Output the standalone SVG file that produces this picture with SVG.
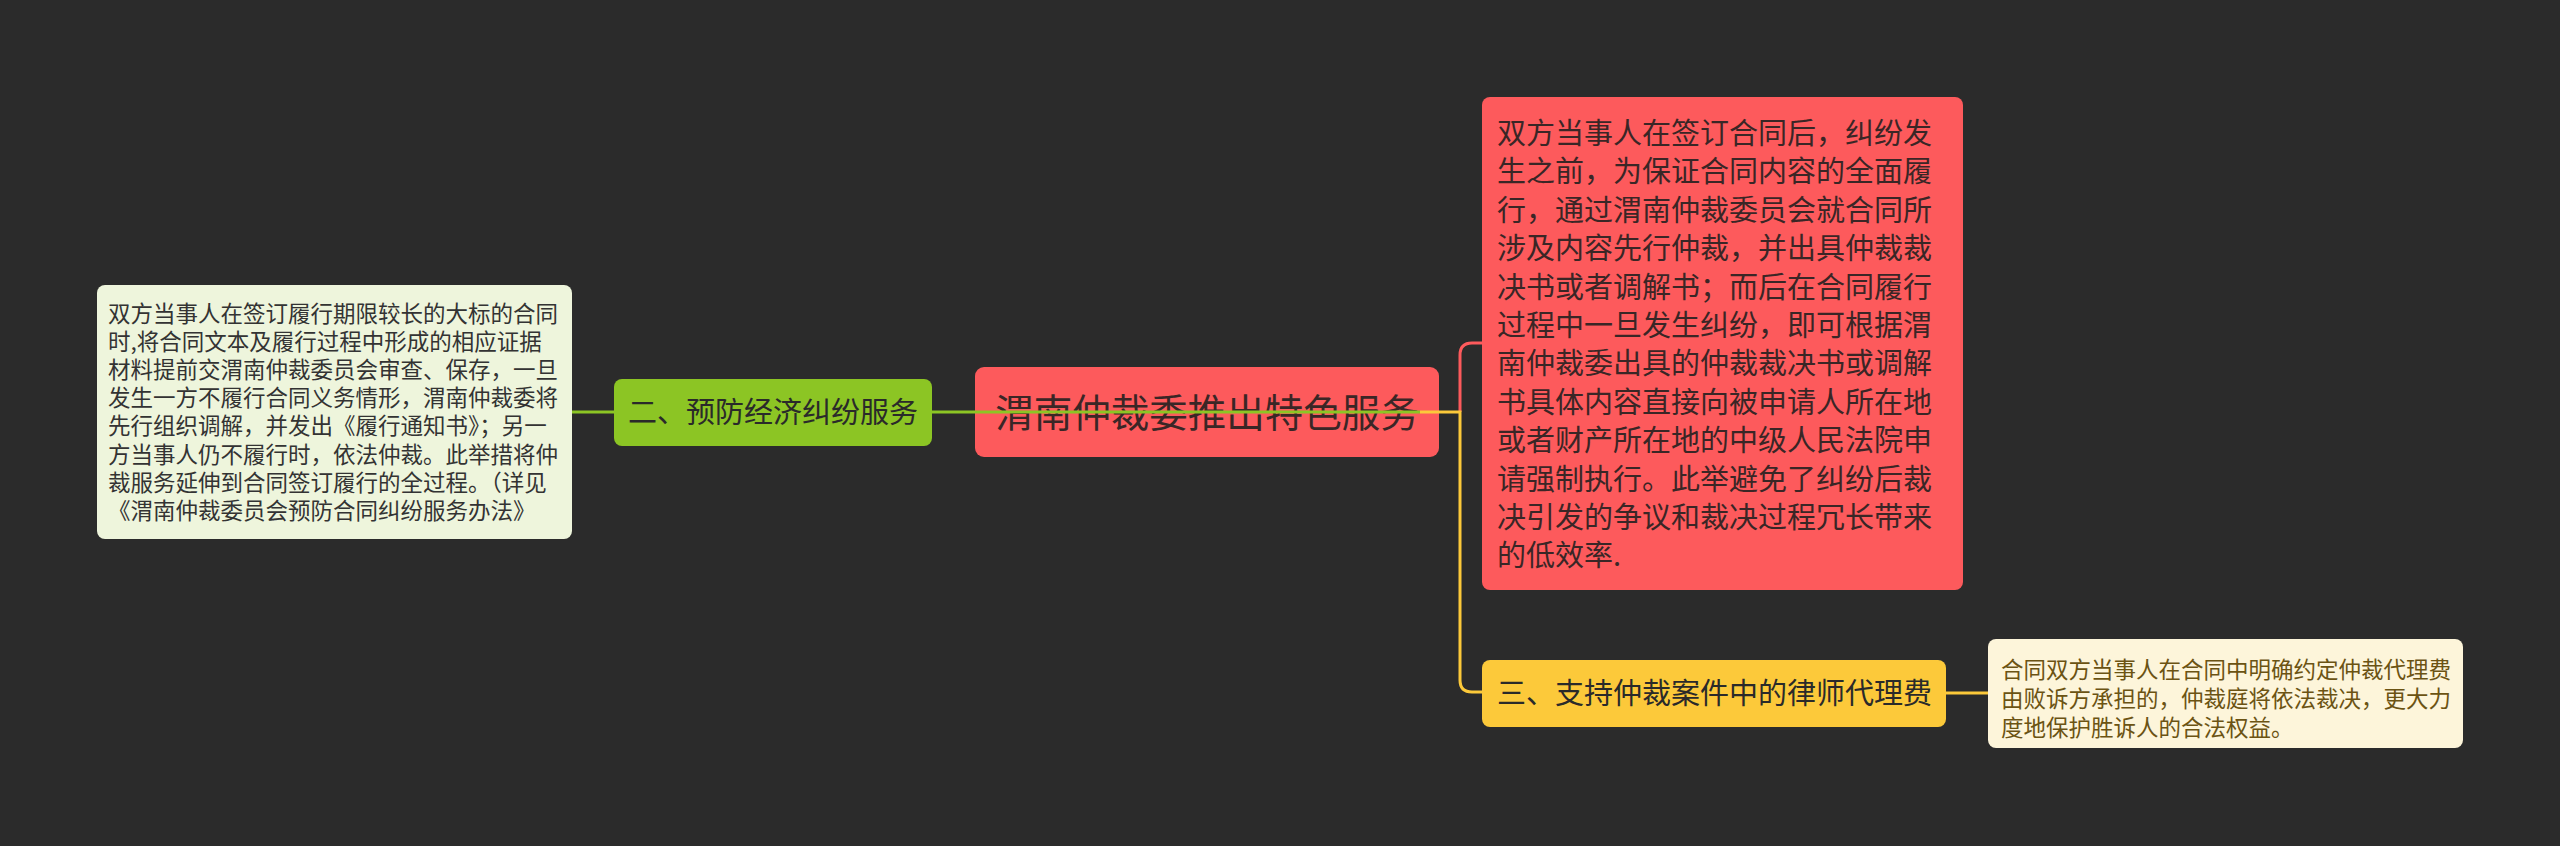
<svg xmlns="http://www.w3.org/2000/svg" width="2560" height="846" viewBox="0 0 2560 846">
<style>
text{font-family:"Noto Sans CJK SC","Noto Sans",sans-serif;}
.leafL{fill:#333333;font-size:22.5px;}
.leafR{fill:#6b5313;font-size:22.5px;}
.red{fill:#3a2626;font-size:29px;}
.br{fill:#2a2a2a;font-size:29px;}
.root{fill:#3a2626;font-size:38.5px;}
.ln{fill:none;stroke-width:3;}
</style>
<rect width="2560" height="846" fill="#2b2b2b"/>
<g id="left-leaf">
<rect x="97" y="285" width="475" height="254" rx="8" fill="#eef5dc"/>
<text class="leafL" x="108" y="321.5">双方当事人在签订履行期限较长的大标的合同</text>
<text class="leafL" x="108" y="349.7">时,将合同文本及履行过程中形成的相应证据</text>
<text class="leafL" x="108" y="377.9">材料提前交渭南仲裁委员会审查、保存，一旦</text>
<text class="leafL" x="108" y="406.1">发生一方不履行合同义务情形，渭南仲裁委将</text>
<text class="leafL" x="108" y="434.3">先行组织调解，并发出《履行通知书》；另一</text>
<text class="leafL" x="108" y="462.5">方当事人仍不履行时，依法仲裁。此举措将仲</text>
<text class="leafL" x="108" y="490.7">裁服务延伸到合同签订履行的全过程。（详见</text>
<text class="leafL" x="108" y="518.9">《渭南仲裁委员会预防合同纠纷服务办法》</text>
</g>
<g id="branch-green">
<rect x="614" y="379" width="318" height="67" rx="8" fill="#8cc524"/>
<text class="br" x="773" y="423" text-anchor="middle">二、预防经济纠纷服务</text>
</g>
<g id="root">
<rect x="975" y="367" width="464" height="90" rx="9" fill="#fd5a5c"/>
<text class="root" x="1207" y="426.6" text-anchor="middle">渭南仲裁委推出特色服务</text>
</g>
<g id="red-leaf">
<rect x="1482" y="97" width="481" height="493" rx="8" fill="#fd5a5c"/>
<text class="red" x="1497" y="144">双方当事人在签订合同后，纠纷发</text>
<text class="red" x="1497" y="182.4">生之前，为保证合同内容的全面履</text>
<text class="red" x="1497" y="220.8">行，通过渭南仲裁委员会就合同所</text>
<text class="red" x="1497" y="259.2">涉及内容先行仲裁，并出具仲裁裁</text>
<text class="red" x="1497" y="297.6">决书或者调解书；而后在合同履行</text>
<text class="red" x="1497" y="336">过程中一旦发生纠纷，即可根据渭</text>
<text class="red" x="1497" y="374.4">南仲裁委出具的仲裁裁决书或调解</text>
<text class="red" x="1497" y="412.8">书具体内容直接向被申请人所在地</text>
<text class="red" x="1497" y="451.2">或者财产所在地的中级人民法院申</text>
<text class="red" x="1497" y="489.6">请强制执行。此举避免了纠纷后裁</text>
<text class="red" x="1497" y="528">决引发的争议和裁决过程冗长带来</text>
<text class="red" x="1497" y="566.4">的低效率.</text>
</g>
<g id="branch-yellow">
<rect x="1482" y="660" width="464" height="67" rx="8" fill="#fcc93a"/>
<text class="br" x="1497" y="704">三、支持仲裁案件中的律师代理费</text>
</g>
<g id="right-leaf">
<rect x="1988" y="639" width="475" height="109" rx="8" fill="#fdf5da"/>
<text class="leafR" x="2001" y="677.5">合同双方当事人在合同中明确约定仲裁代理费</text>
<text class="leafR" x="2001" y="706.5">由败诉方承担的，仲裁庭将依法裁决，更大力</text>
<text class="leafR" x="2001" y="735.5">度地保护胜诉人的合法权益。</text>
</g>
<g id="connectors">
<path class="ln" stroke="#fd5a5c" d="M1460 412 V355 Q1460 343 1472 343 H1482"/>
<path class="ln" stroke="#fcc93a" d="M1420 412 H1460 V680 Q1460 692 1472 692 H1482"/>
<path class="ln" stroke="#8cc524" d="M1420 412 H932 M614 412 H572"/>
<path class="ln" stroke="#fcc93a" d="M1946 693 H1988"/>
</g>
</svg>
